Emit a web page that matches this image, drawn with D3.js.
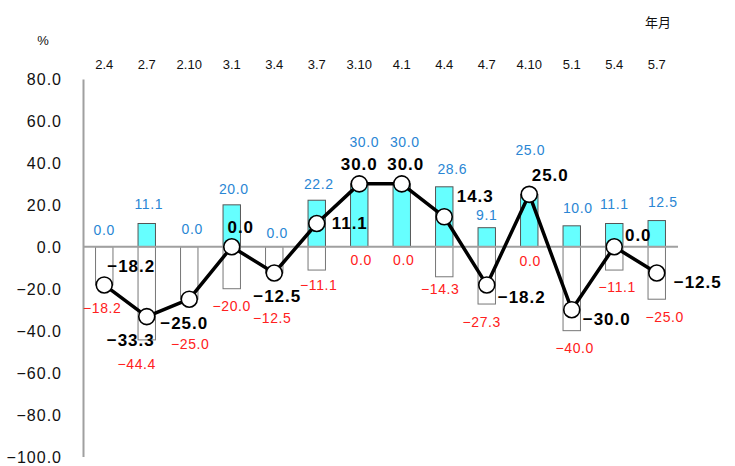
<!DOCTYPE html>
<html>
<head>
<meta charset="utf-8">
<script src="https://cdn.jsdelivr.net/npm/d3@7/dist/d3.min.js"></script>
<style>
  html, body { margin: 0; padding: 0; background: #fff; }
  svg { display: block; }
</style>
</head>
<body>
<svg id="chart" width="735" height="466"></svg>
<script>
// ---- data ----
const categories = ["2.4","2.7","2.10","3.1","3.4","3.7","3.10","4.1","4.4","4.7","4.10","5.1","5.4","5.7"];
const positiveValues = [0.0, 11.1, 0.0, 20.0, 0.0, 22.2, 30.0, 30.0, 28.6, 9.1, 25.0, 10.0, 11.1, 12.5];
const negativeValues = [-18.2, -44.4, -25.0, -20.0, -12.5, -11.1, 0.0, 0.0, -14.3, -27.3, 0.0, -40.0, -11.1, -25.0];
const netValues = [-18.2, -33.3, -25.0, 0.0, -12.5, 11.1, 30.0, 30.0, 14.3, -18.2, 25.0, -30.0, 0.0, -12.5];
const yTicks = [80, 60, 40, 20, 0, -20, -40, -60, -80, -100];

// ---- label placement (offsets in px) ----
const posLabelOffset = [[0,-16.5],[2,-19],[3,-17.5],[2,-15.6],[3,-14],[2,-16],[5,-42],[3,-42],[8,-17.6],[0,-12.4],[1,-44],[6,-17.6],[0,-19],[6,-19]];
const negLabelOffset = [[-2,23.5],[-10,24.5],[1,45],[0,17.6],[-2,45],[2,15],[2,13.5],[2,13.5],[-4,12.6],[-5,18],[1,14.5],[3,17],[3,17],[8,18]];
const netLabelOffset = [[27,-18],[-16,24],[-5,24],[9,-19.5],[3,24],[33,0],[0,-19],[4,-19],[31,-20],[35,13],[21,-19],[35,10],[24,-11.5],[41,10]];

const svg = d3.select("#chart");
const fmt = d3.format(".1f");
const fmtTxt = v => fmt(v).replace("-", "\u2212");

const x = d3.scaleBand().domain(categories).range([83, 678]).paddingInner(0.59).paddingOuter(0.295);
const y = d3.scaleLinear().domain([-100, 80]).range([456.5, 79]);
const cx = c => x(c) + x.bandwidth() / 2;

// y axis
const yAxis = d3.axisLeft(y).tickValues(yTicks).tickSize(0).tickPadding(22).tickFormat(fmtTxt);
const gy = svg.append("g").attr("transform", "translate(83,0)").call(yAxis);
gy.select(".domain").attr("stroke", "#a0a0a0").attr("stroke-width", 2);
gy.selectAll(".tick text")
  .attr("font-family", "'Liberation Sans', Arial, sans-serif")
  .attr("font-size", 16).attr("fill", "#111").attr("letter-spacing", 1)
  .attr("dy", "0.35em").attr("x", -21);

// x axis (top labels)
const xAxis = d3.axisTop(x).tickSize(0).tickPadding(0);
const gx = svg.append("g").attr("transform", "translate(0,64)").call(xAxis);
gx.select(".domain").remove();
gx.selectAll(".tick text")
  .attr("font-family", "'Liberation Sans', Arial, sans-serif")
  .attr("font-size", 13).attr("fill", "#111")
  .attr("dominant-baseline", "central").attr("y", 0).attr("dy", null);

// unit labels
svg.append("text").attr("x", 43).attr("y", 40).attr("text-anchor", "middle")
  .attr("dominant-baseline", "central").attr("font-family", "'Liberation Sans', sans-serif")
  .attr("font-size", 13).attr("fill", "#111").text("%");
svg.append("text").attr("x", 658).attr("y", 21).attr("text-anchor", "middle")
  .attr("dominant-baseline", "central").attr("font-family", "'Noto Sans CJK JP', sans-serif")
  .attr("font-size", 13).attr("fill", "#111").text("年月");

// positive bars
svg.append("g").selectAll("rect").data(categories).join("rect")
  .attr("x", c => x(c)).attr("width", x.bandwidth())
  .attr("y", (c, i) => y(positiveValues[i])).attr("height", (c, i) => y(0) - y(positiveValues[i]))
  .attr("fill", "#66ffff").attr("stroke", "#555").attr("stroke-width", 1);

// negative bars
svg.append("g").selectAll("rect").data(categories).join("rect")
  .attr("x", c => x(c)).attr("width", x.bandwidth())
  .attr("y", y(0)).attr("height", (c, i) => y(negativeValues[i]) - y(0))
  .attr("fill", "#ffffff").attr("stroke", "#777").attr("stroke-width", 1);

// zero line
svg.append("line").attr("x1", 83).attr("x2", 678).attr("y1", y(0)).attr("y2", y(0))
  .attr("stroke", "#a0a0a0").attr("stroke-width", 2);

// net line
const line = d3.line().x((c) => cx(c)).y((c, i) => y(netValues[i]));
svg.append("path").datum(categories).attr("d", line)
  .attr("fill", "none").attr("stroke", "#000").attr("stroke-width", 3.5).attr("stroke-linejoin", "round");

svg.append("g").selectAll("circle").data(categories).join("circle")
  .attr("cx", c => cx(c)).attr("cy", (c, i) => y(netValues[i])).attr("r", 8)
  .attr("fill", "#fff").attr("stroke", "#000").attr("stroke-width", 1.6);

// positive labels
svg.append("g").selectAll("text").data(categories).join("text")
  .attr("x", (c, i) => cx(c) + posLabelOffset[i][0])
  .attr("y", (c, i) => y(positiveValues[i]) + posLabelOffset[i][1])
  .attr("text-anchor", "middle").attr("dominant-baseline", "central")
  .attr("font-family", "'Liberation Sans', Arial, sans-serif").attr("font-size", 14)
  .attr("letter-spacing", 0.6).attr("fill", "#2a86d4")
  .text((c, i) => fmtTxt(positiveValues[i]));

// negative labels
svg.append("g").selectAll("text").data(categories).join("text")
  .attr("x", (c, i) => cx(c) + negLabelOffset[i][0])
  .attr("y", (c, i) => y(negativeValues[i]) + negLabelOffset[i][1])
  .attr("text-anchor", "middle").attr("dominant-baseline", "central")
  .attr("font-family", "'Liberation Sans', Arial, sans-serif").attr("font-size", 14)
  .attr("letter-spacing", 0.6).attr("fill", "#ff2020")
  .text((c, i) => fmtTxt(negativeValues[i]));

// net labels
svg.append("g").selectAll("text").data(categories).join("text")
  .attr("x", (c, i) => cx(c) + netLabelOffset[i][0])
  .attr("y", (c, i) => y(netValues[i]) + netLabelOffset[i][1])
  .attr("text-anchor", "middle").attr("dominant-baseline", "central")
  .attr("font-family", "'Liberation Sans', Arial, sans-serif").attr("font-size", 17)
  .attr("font-weight", "bold").attr("letter-spacing", 1).attr("fill", "#000")
  .text((c, i) => fmtTxt(netValues[i]));
</script>
</body>
</html>
